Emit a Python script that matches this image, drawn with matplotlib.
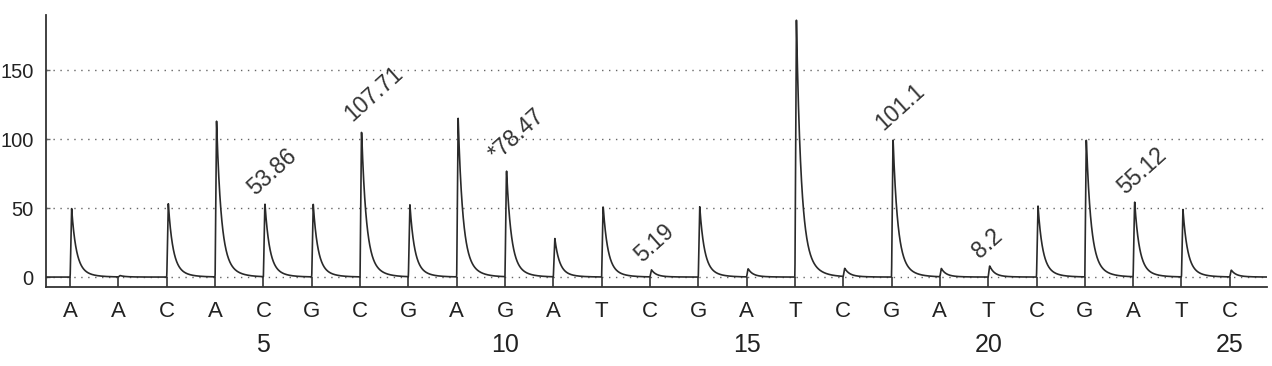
import numpy as np
import matplotlib
matplotlib.use('Agg')
import matplotlib.pyplot as plt
import matplotlib.transforms as mtransforms

# ── Data: dispensation order and peak heights ────────────────────────────────
bases = ['A', 'A', 'C', 'A', 'C', 'G', 'C', 'G', 'A', 'G', 'A', 'T', 'C',
         'G', 'A', 'T', 'C', 'G', 'A', 'T', 'C', 'G', 'A', 'T', 'C']
heights = [50, 1, 54, 113, 53.86, 53, 107.71, 53, 115, 78.47, 28, 52, 5.19,
           51, 6, 188, 6, 101.1, 6, 8.2, 52, 101, 55.12, 49, 5]
labelled_pos = [5, 7, 10, 13, 18, 20, 23]
labelled_text = ['53.86', '107.71', '*78.47', '5.19', '101.1', '8.2', '55.12']
number_ticks = [5, 10, 15, 20, 25]

positions = np.arange(1, len(bases) + 1)

# ── Build trace: sharp rise then exponential decay for each peak ─────────────
x = np.linspace(0.5, 25.77, 6000)
y = np.zeros_like(x)
rise, tau = 0.03, 0.09
for p, h in zip(positions, heights):
    t = x - p
    pulse = np.where(t < 0, 0.0,
                     np.where(t < rise, t / rise,
                              0.8 * np.exp(-(t - rise) / tau)
                              + 0.2 * np.exp(-(t - rise) / (tau * 2.5))))
    y += h * pulse

# ── Plot ─────────────────────────────────────────────────────────────────────
fig = plt.figure(figsize=(12.72, 3.66), dpi=100)
ax = fig.add_axes([46 / 1272, 1 - 287 / 366, 1221 / 1272, 272 / 366])

for yv in [0, 50, 100, 150]:
    ax.axhline(yv, color='#666666', linestyle=(0, (1, 4)), linewidth=1.0, zorder=1)

ax.plot(x, y, color='#2a2a2a', linewidth=1.2, zorder=3)

ax.set_xlim(0.5, 25.77)
ax.set_ylim(-7.2, 190)

ax.spines['top'].set_visible(False)
ax.spines['right'].set_visible(False)
ax.spines['left'].set_linewidth(1.3)
ax.spines['bottom'].set_linewidth(1.3)
ax.spines['left'].set_color('#333333')
ax.spines['bottom'].set_color('#333333')

ax.set_xticks(positions)
ax.set_xticklabels(bases, fontsize=16, color='#222222', family='Liberation Sans')
ax.tick_params(axis='x', direction='in', length=7.2, width=1.2, color='#333333', pad=10)

ax.set_yticks([0, 50, 100, 150])
ax.set_yticklabels(['0', '50', '100', '150'], fontsize=14.5, color='#222222',
                   family='Liberation Sans')
ax.tick_params(axis='y', direction='in', length=3, width=1, color='#666666', pad=9)

# numbers under the base letters
trans = mtransforms.blended_transform_factory(ax.transData, fig.transFigure)
for n in number_ticks:
    ax.text(n, 1 - 345 / 366, str(n), transform=trans, ha='center', va='center',
            fontsize=18, color='#222222', family='Liberation Sans')

# rotated peak values
for p, txt in zip(labelled_pos, labelled_text):
    h = heights[p - 1]
    ax.text(p - 0.1, h + 2, txt, rotation=42, rotation_mode='anchor',
            ha='left', va='bottom', fontsize=16.5, color='#333333',
            family='Liberation Sans', zorder=4)

fig.savefig('out.png', dpi=100, facecolor='white')
